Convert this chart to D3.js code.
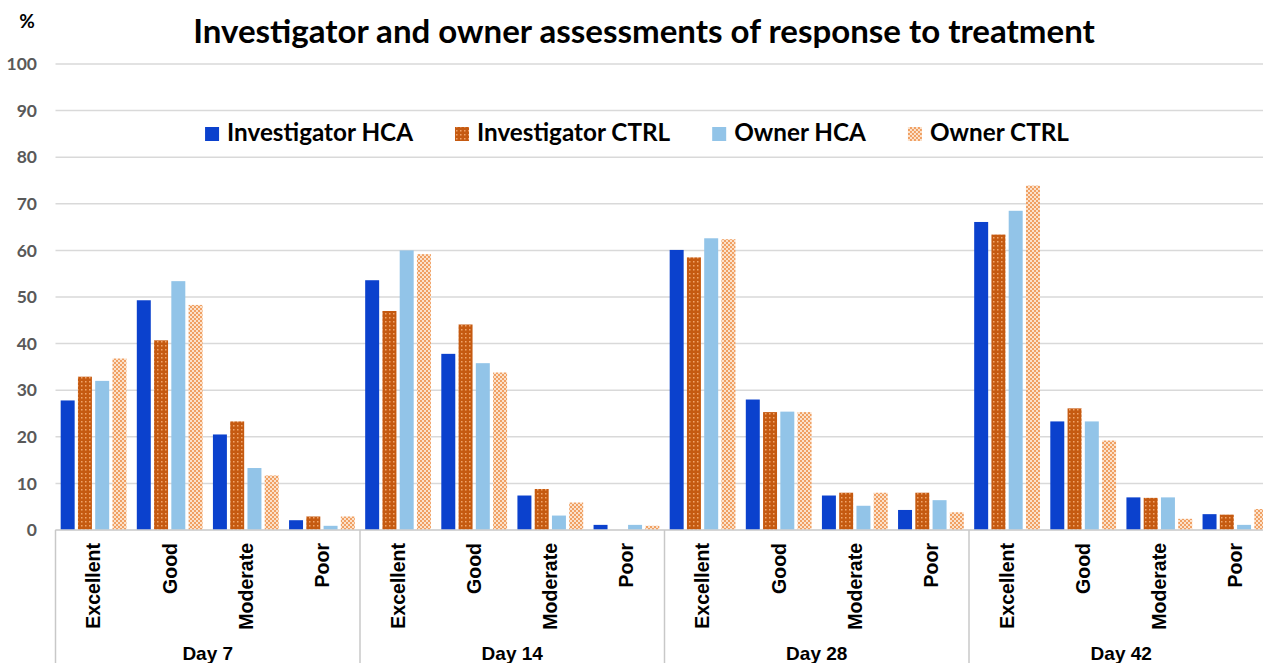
<!DOCTYPE html>
<html>
<head>
<meta charset="utf-8">
<script src="https://cdn.jsdelivr.net/npm/d3@7/dist/d3.min.js"></script>
<style>
  html, body { margin: 0; padding: 0; background: #fff; }
  svg { display: block; }
</style>
</head>
<body>
<svg id="chart" width="1263" height="663"></svg>
<script>
// ---------- DATA ----------
const days = ["Day 7", "Day 14", "Day 28", "Day 42"];
const categories = ["Excellent", "Good", "Moderate", "Poor"];
const seriesNames = ["Investigator HCA", "Investigator CTRL", "Owner HCA", "Owner CTRL"];
const yTicks = [0, 10, 20, 30, 40, 50, 60, 70, 80, 90, 100];

// values[series][day][category]
const investigatorHCA = [
  [27.8, 49.3, 20.5, 2.1],
  [53.6, 37.8, 7.4, 1.1],
  [60.1, 28.0, 7.4, 4.3],
  [66.1, 23.3, 7.0, 3.4]
];
const investigatorCTRL = [
  [32.9, 40.7, 23.3, 2.9],
  [47.0, 44.1, 8.8, 0.0],
  [58.5, 25.3, 8.0, 8.0],
  [63.4, 26.1, 6.9, 3.3]
];
const ownerHCA = [
  [32.0, 53.4, 13.3, 0.9],
  [60.0, 35.8, 3.1, 1.1],
  [62.6, 25.4, 5.2, 6.4],
  [68.5, 23.3, 7.0, 1.1]
];
const ownerCTRL = [
  [36.8, 48.3, 11.7, 2.9],
  [59.2, 33.8, 5.9, 0.9],
  [62.4, 25.3, 8.0, 3.8],
  [73.9, 19.2, 2.4, 4.5]
];
const seriesValues = [investigatorHCA, investigatorCTRL, ownerHCA, ownerCTRL];

// ---------- SETUP ----------
const svg = d3.select("#chart");
const W = 1263, H = 663;
const plot = { left: 55.5, right: 1273.5, top: 64, bottom: 530 };

const defs = svg.append("defs");
// Investigator CTRL: dark orange with light dots
const p1 = defs.append("pattern").attr("id", "patInvCtrl")
  .attr("width", 4).attr("height", 4).attr("patternUnits", "userSpaceOnUse");
p1.append("rect").attr("width", 4).attr("height", 4).attr("fill", "#c55a11");
p1.append("rect").attr("x", 1).attr("y", 1).attr("width", 1.5).attr("height", 1.5).attr("fill", "#f2a56b");
// Owner CTRL: light orange checkerboard
const p2 = defs.append("pattern").attr("id", "patOwnCtrl")
  .attr("width", 4).attr("height", 4).attr("patternUnits", "userSpaceOnUse");
p2.append("rect").attr("width", 4).attr("height", 4).attr("fill", "#fbe2cc");
p2.append("rect").attr("x", 0).attr("y", 0).attr("width", 2).attr("height", 2).attr("fill", "#f0a063");
p2.append("rect").attr("x", 2).attr("y", 2).attr("width", 2).attr("height", 2).attr("fill", "#f0a063");

const fills = ["#0b41cd", "url(#patInvCtrl)", "#92c4e8", "url(#patOwnCtrl)"];

// ---------- SCALES ----------
const y = d3.scaleLinear().domain([0, 100]).range([plot.bottom, plot.top]);
const xDay = d3.scaleBand().domain(days).range([plot.left, plot.right]).padding(0);
const xCat = d3.scaleBand().domain(categories).range([0, xDay.bandwidth()]).padding(0);
const xSer = d3.scaleBand().domain(seriesNames).range([0, xCat.bandwidth()])
  .paddingInner(0.19).paddingOuter(0.3);

// ---------- GRID ----------
const grid = svg.append("g");
grid.selectAll("line").data(yTicks).join("line")
  .attr("x1", plot.left).attr("x2", W)
  .attr("y1", d => y(d)).attr("y2", d => y(d))
  .attr("stroke", "#d9d9d9").attr("stroke-width", 1.5);

// y tick labels
svg.append("g").selectAll("text").data(yTicks).join("text")
  .attr("x", 37).attr("y", d => y(d)).attr("dy", "0.35em")
  .attr("text-anchor", "end")
  .attr("font-family", "Lato, 'Open Sans', sans-serif")
  .attr("font-weight", "bold").attr("font-size", 17.5)
  .attr("fill", "#595959")
  .text(d => d);

svg.append("text").attr("x", 27).attr("y", 28).attr("text-anchor", "middle")
  .attr("font-family", "Lato, sans-serif").attr("font-weight", "bold")
  .attr("font-size", 19).attr("fill", "#000").text("%");

// ---------- BARS ----------
const barsData = [];
seriesNames.forEach((s, si) => {
  days.forEach((d, di) => {
    categories.forEach((c, ci) => {
      barsData.push({ s, si, d, c, v: seriesValues[si][di][ci] });
    });
  });
});
svg.append("g").selectAll("rect").data(barsData).join("rect")
  .attr("x", b => xDay(b.d) + xCat(b.c) + xSer(b.s))
  .attr("width", xSer.bandwidth())
  .attr("y", b => y(b.v))
  .attr("height", b => y(0) - y(b.v))
  .attr("fill", b => fills[b.si]);

// ---------- CATEGORY AXIS ----------
const axisG = svg.append("g");
axisG.append("line")
  .attr("x1", plot.left).attr("x2", W)
  .attr("y1", y(0)).attr("y2", y(0))
  .attr("stroke", "#d0d0d0").attr("stroke-width", 1.5);
const boundaries = days.map(d => xDay(d)).concat([xDay(days[days.length - 1]) + xDay.bandwidth()]);
axisG.selectAll("line.sep").data(boundaries).join("line").attr("class", "sep")
  .attr("x1", d => d).attr("x2", d => d)
  .attr("y1", y(0)).attr("y2", H)
  .attr("stroke", "#c8c8c8").attr("stroke-width", 1.5);

const catLabels = [];
days.forEach(d => categories.forEach(c => catLabels.push({ d, c })));
axisG.selectAll("text.cat").data(catLabels).join("text").attr("class", "cat")
  .attr("transform", l => `translate(${xDay(l.d) + xCat(l.c) + xCat.bandwidth() / 2}, 543) rotate(-90)`)
  .attr("dy", "0.35em")
  .attr("text-anchor", "end")
  .attr("font-family", "'Liberation Sans', Arial, sans-serif")
  .attr("font-weight", "bold").attr("font-size", 19.5)
  .attr("fill", "#000")
  .text(l => l.c);

axisG.selectAll("text.day").data(days).join("text").attr("class", "day")
  .attr("x", d => xDay(d) + xDay.bandwidth() / 2).attr("y", 660)
  .attr("text-anchor", "middle")
  .attr("font-family", "'Liberation Sans', Arial, sans-serif")
  .attr("font-weight", "bold").attr("font-size", 19)
  .attr("fill", "#000")
  .text(d => d);

// ---------- TITLE ----------
const title = svg.append("text")
  .attr("x", 644).attr("y", 43).attr("text-anchor", "middle")
  .attr("font-family", "Lato, 'Open Sans', sans-serif")
  .attr("font-weight", "bold").attr("font-size", 30).attr("fill", "#000")
  .text("Investigator and owner assessments of response to treatment");
{
  const w = title.node().getComputedTextLength();
  title.attr("font-size", 30 * 902 / w);
}

// ---------- LEGEND ----------
const legend = svg.append("g");
const legFont = 24;
const items = legend.selectAll("g").data(seriesNames).join("g");
items.append("rect").attr("width", 14).attr("height", 14)
  .attr("y", -14).attr("fill", (d, i) => fills[i]);
const legTexts = items.append("text").attr("x", 22).attr("y", 0)
  .attr("font-family", "Lato, 'Open Sans', sans-serif")
  .attr("font-weight", "bold").attr("font-size", legFont).attr("fill", "#000")
  .text(d => d);
// scale font so first label matches reference width
{
  const w0 = legTexts.nodes()[0].getComputedTextLength();
  legTexts.attr("font-size", legFont * 186 / w0);
}
{
  const widths = legTexts.nodes().map(n => 22 + n.getComputedTextLength());
  const gap = 42;
  const total = d3.sum(widths) + gap * (widths.length - 1);
  let x = 637 - total / 2;
  items.each(function (d, i) {
    d3.select(this).attr("transform", `translate(${x}, 141)`);
    x += widths[i] + gap;
  });
}
</script>
</body>
</html>
